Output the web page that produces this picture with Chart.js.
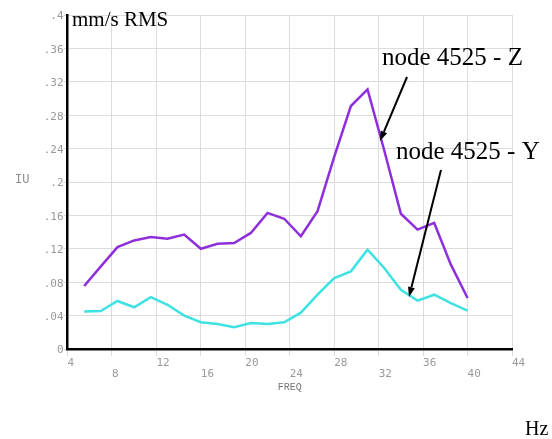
<!DOCTYPE html>
<html>
<head>
<meta charset="utf-8">
<script src="https://cdn.jsdelivr.net/npm/chart.js@4"></script>
<style>
html,body{margin:0;padding:0;background:#fff;}
#wrap{position:relative;width:552px;height:439px;}
canvas{display:block;}
</style>
</head>
<body>
<div id="wrap"><canvas id="c" width="552" height="439"></canvas></div>
<script>
// Frequencies (Hz)
const freq = [5.5, 7, 8.5, 10, 11.5, 13, 14.5, 16, 17.5, 19, 20.5, 22, 23.5, 25, 26.5, 28, 29.5, 31, 32.5, 34, 35.5, 37, 38.5, 40];
// node 4525 - Z (mm/s RMS)
const nodeZ = [0.0755, 0.099, 0.122, 0.130, 0.134, 0.132, 0.137, 0.120, 0.126, 0.127, 0.139, 0.163, 0.156, 0.135, 0.165, 0.230, 0.291, 0.311, 0.238, 0.162, 0.143, 0.151, 0.101, 0.061];
// node 4525 - Y (mm/s RMS)
const nodeY = [0.045, 0.0455, 0.0575, 0.050, 0.062, 0.053, 0.040, 0.032, 0.030, 0.026, 0.031, 0.030, 0.032, 0.0435, 0.065, 0.085, 0.093, 0.119, 0.097, 0.071, 0.058, 0.065, 0.055, 0.046];
// x tick labels on the first row vs second row
const xTicksRow1 = [4, 12, 20, 28, 36, 44];
const xTicksRow2 = [8, 16, 24, 32, 40];
const seriesNames = ['node 4525 - Z', 'node 4525 - Y'];

const toPts = (xs, ys) => xs.map((x, i) => ({x: x, y: ys[i]}));

const annot = {
  id: 'annot',
  afterDraw(chart) {
    const ctx = chart.ctx;
    ctx.save();
    ctx.fillStyle = '#000';
    ctx.textBaseline = 'alphabetic';
    ctx.textAlign = 'left';
    ctx.font = '21px "Liberation Serif", "Times New Roman", serif';
    ctx.fillText('mm/s RMS', 72, 26);
    ctx.font = '20px "Liberation Serif", "Times New Roman", serif';
    ctx.fillText('Hz', 525, 435);
    ctx.font = '25px "Liberation Serif", "Times New Roman", serif';
    ctx.fillText(seriesNames[0], 382, 65);
    ctx.fillText(seriesNames[1], 396, 159);
    ctx.fillStyle = '#8a8a8a';
    ctx.font = '12px "Liberation Mono", monospace';
    ctx.textBaseline = 'middle';
    ctx.fillText('IU', 15, 180);
    // arrows
    const arrow = (x1, y1, x2, y2) => {
      ctx.strokeStyle = '#000';
      ctx.fillStyle = '#000';
      ctx.lineWidth = 2;
      const a = Math.atan2(y2 - y1, x2 - x1);
      const L = 10, W = 3.5;
      const bx = x2 - L * Math.cos(a), by = y2 - L * Math.sin(a);
      ctx.beginPath();
      ctx.moveTo(x1, y1);
      ctx.lineTo(bx, by);
      ctx.stroke();
      ctx.beginPath();
      ctx.moveTo(x2, y2);
      ctx.lineTo(bx + W * Math.sin(a), by - W * Math.cos(a));
      ctx.lineTo(bx - W * Math.sin(a), by + W * Math.cos(a));
      ctx.closePath();
      ctx.fill();
    };
    arrow(407, 77, 380, 141);
    arrow(441, 170, 409, 297);
    ctx.restore();
  }
};

new Chart(document.getElementById('c'), {
  type: 'line',
  data: {
    datasets: [
      {label: seriesNames[0], data: toPts(freq, nodeZ), borderColor: '#8f2fdc', borderWidth: 2.5, pointRadius: 0, tension: 0, fill: false},
      {label: seriesNames[1], data: toPts(freq, nodeY), borderColor: '#3fe2e2', borderWidth: 2.5, pointRadius: 0, tension: 0, fill: false}
    ]
  },
  options: {
    responsive: false,
    animation: false,
    devicePixelRatio: 1,
    layout: {padding: {left: 0, top: 15, right: 40, bottom: 0}},
    plugins: {legend: {display: false}, tooltip: {enabled: false}},
    scales: {
      x: {
        type: 'linear', min: 4, max: 44,
        afterFit: s => { s.height = 90; },
        afterBuildTicks: s => { s.ticks = xTicksRow1.concat(xTicksRow2).sort((a, b) => a - b).map(v => ({value: v})); },
        grid: {color: '#dcdcdc', lineWidth: 1, drawTicks: true, tickLength: 7, tickColor: '#dcdcdc'},
        border: {display: true, color: '#000', width: 2.5},
        ticks: {
          align: 'start', padding: 2, color: '#999', maxRotation: 0, autoSkip: false,
          font: {family: '"DejaVu Sans Mono", monospace', size: 11, lineHeight: 1.0},
          callback: v => xTicksRow2.includes(v) ? ['', String(v)] : [String(v)]
        },
        title: {display: true, text: 'FREQ', color: '#777', font: {family: '"Liberation Mono", monospace', size: 10, lineHeight: 1.2}, padding: {top: 0, bottom: 46}}
      },
      y: {
        type: 'linear', min: 0, max: 0.4,
        afterFit: s => { s.width = 67.5; },
        grid: {color: '#dcdcdc', lineWidth: 1, drawTicks: true, tickLength: 4, tickColor: '#dcdcdc'},
        border: {display: true, color: '#000', width: 2.5},
        ticks: {
          stepSize: 0.04, padding: 0, color: '#999', labelOffset: 1.5,
          font: {family: '"DejaVu Sans Mono", monospace', size: 11},
          callback: v => { if (Math.abs(v) < 1e-9) return '0'; let s = v.toFixed(2).replace(/^0/, ''); if (s.endsWith('0')) s = s.slice(0, -1); return s; }
        }
      }
    }
  },
  plugins: [annot]
});
</script>
</body>
</html>
